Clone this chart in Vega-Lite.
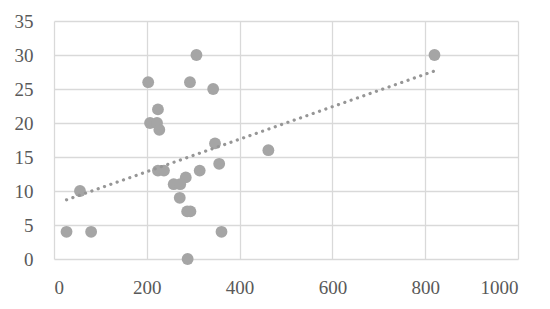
{
  "$schema": "https://vega.github.io/schema/vega-lite/v6.json",
  "width": 464,
  "height": 238,
  "autosize": {"type": "none"},
  "padding": {"left": 54, "top": 21, "right": 32, "bottom": 50},
  "background": "white",
  "config": {
    "view": {"stroke": null},
    "axis": {
      "labelFont": "Liberation Serif",
      "labelFontSize": 19,
      "labelColor": "#595959",
      "gridColor": "#d9d9d9",
      "gridWidth": 1.3,
      "domain": false,
      "ticks": false
    }
  },
  "data": {
    "values": [
      {"x": 307, "y": 30}, {"x": 203, "y": 26}, {"x": 293, "y": 26}, {"x": 343, "y": 25},
      {"x": 224, "y": 22}, {"x": 207, "y": 20}, {"x": 222, "y": 20}, {"x": 227, "y": 19},
      {"x": 347, "y": 17}, {"x": 462, "y": 16}, {"x": 224, "y": 13}, {"x": 237, "y": 13},
      {"x": 356, "y": 14}, {"x": 314, "y": 13}, {"x": 284, "y": 12}, {"x": 258, "y": 11},
      {"x": 272, "y": 11}, {"x": 271, "y": 9}, {"x": 287, "y": 7}, {"x": 294, "y": 7},
      {"x": 56, "y": 10}, {"x": 27, "y": 4}, {"x": 80, "y": 4}, {"x": 361, "y": 4},
      {"x": 288, "y": 0}, {"x": 820, "y": 30}
    ]
  },
  "encoding": {
    "x": {
      "field": "x", "type": "quantitative",
      "scale": {"domain": [0, 1000], "nice": false, "zero": false},
      "axis": {"values": [0, 200, 400, 600, 800, 1000], "format": "d", "title": null, "labelPadding": 19}
    },
    "y": {
      "field": "y", "type": "quantitative",
      "scale": {"domain": [0, 35], "nice": false},
      "axis": {"values": [0, 5, 10, 15, 20, 25, 30, 35], "title": null, "labelPadding": 21}
    }
  },
  "layer": [
    {
      "mark": {"type": "circle", "size": 140, "color": "#a5a5a5", "opacity": 1}
    },
    {
      "transform": [{"regression": "y", "on": "x", "method": "linear", "extent": [27, 820]}],
      "mark": {"type": "line", "color": "#969696", "strokeWidth": 3.2, "strokeDash": [0.1, 6.6], "strokeCap": "round"}
    }
  ]
}
